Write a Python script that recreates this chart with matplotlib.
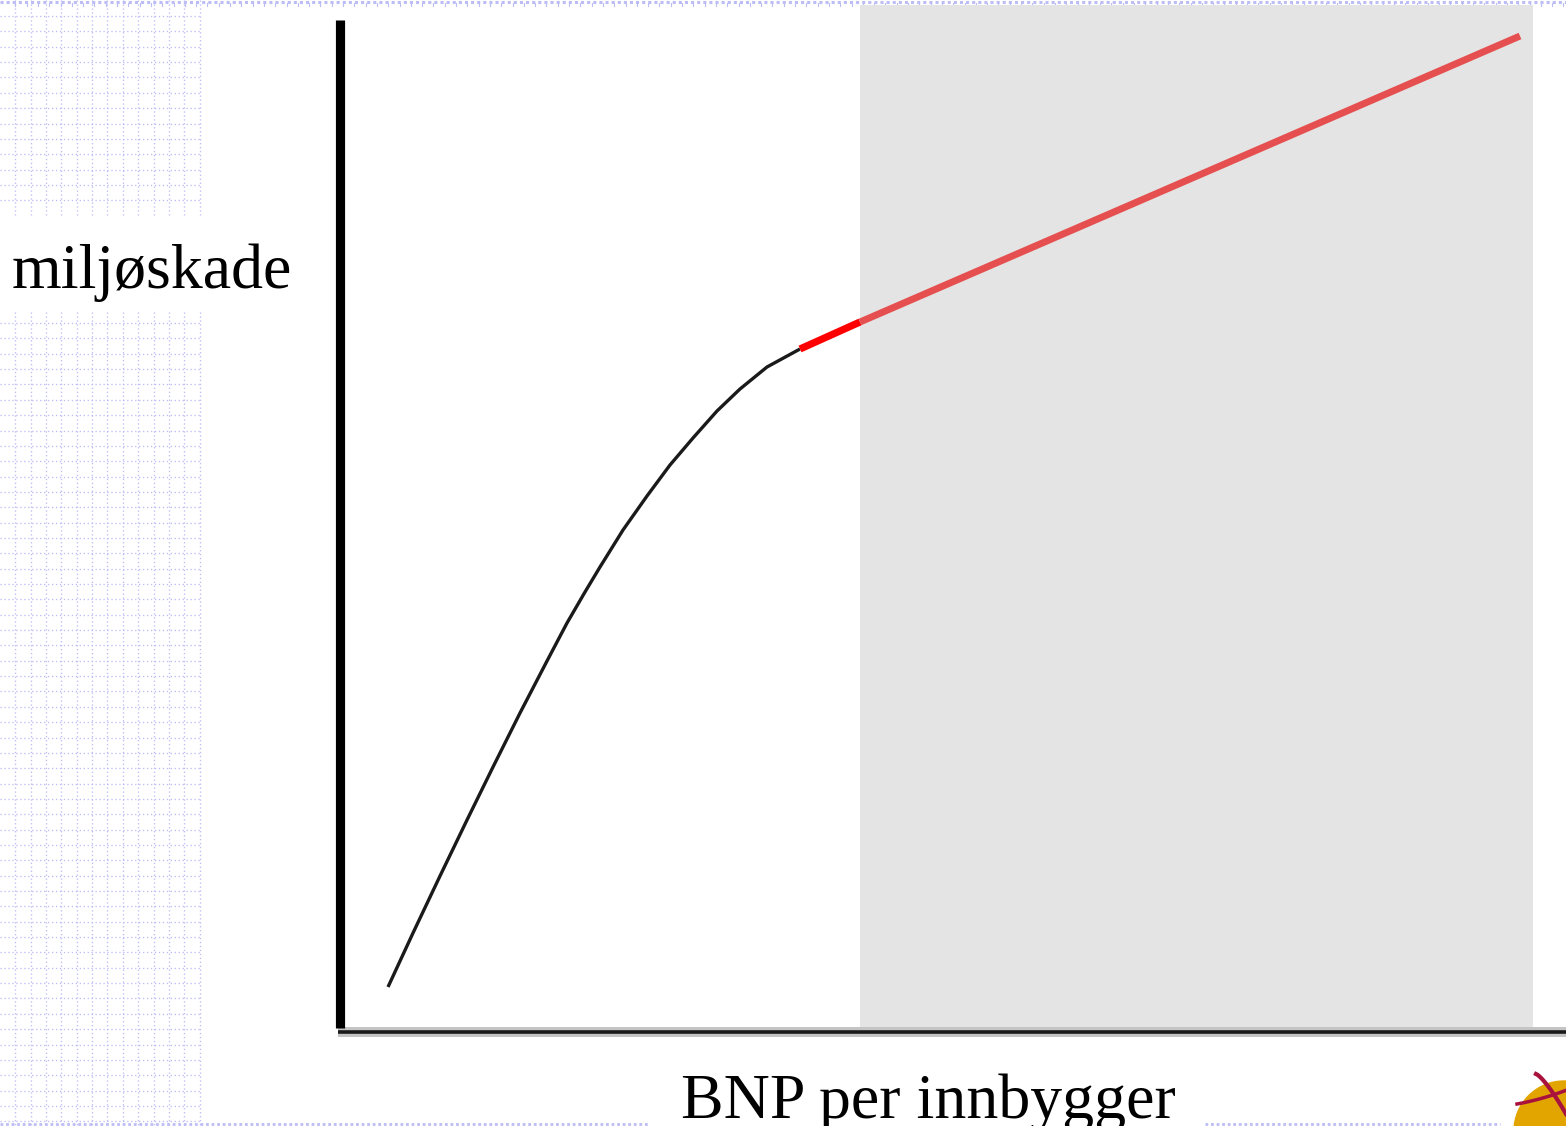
import matplotlib
matplotlib.use("Agg")
import matplotlib.pyplot as plt
import numpy as np
from matplotlib.patches import Circle

# ---- data (arbitrary units: BNP per innbygger vs miljøskade) ----
curve_bnp = [48, 73, 100, 127, 153, 180, 207, 227, 245, 260, 283, 307, 330,
             353, 377, 400, 427, 460]
curve_skade = [40, 94, 151, 207, 260, 314, 366, 404, 435, 460, 497, 531, 562,
               589, 616, 638, 660, 678]
turn_bnp = [460, 520]
turn_skade = [678, 705]
trend_bnp = [520, 1180]
trend_skade = [705, 991]
shade_from = 520
shade_to = 1193
x_label = "BNP per innbygger"
y_label = "miljøskade"

W, H = 1566, 1126
fig = plt.figure(figsize=(W / 100, H / 100), dpi=100)
fig.patch.set_facecolor("white")

# background (slide decoration) in pixel coordinates
bg = fig.add_axes([0, 0, 1, 1], zorder=0)
bg.set_xlim(0, W)
bg.set_ylim(H, 0)
bg.axis("off")

gc = "#bcbcf6"
dots = (0, (1, 2))
lw_px = 0.95
step = 15.35
xs = [step * k for k in range(1, 14)]
ys = [step * k + 0.7 for k in range(1, 74)]
for x in xs:
    bg.plot([x, x], [0, 215], color=gc, lw=lw_px, ls=dots)
    bg.plot([x, x], [312, H], color=gc, lw=lw_px, ls=dots)
for y in ys:
    if 215 < y < 312 or y > H:
        continue
    bg.plot([0, 200], [y, y], color=gc, lw=lw_px, ls=dots)
# top and bottom slide rows
bg.plot([0, W], [1.5, 1.5], color=gc, lw=2.2, ls=(0, (1, 1)))
for x in np.arange(15.3, W, 11.3):
    bg.plot([x, x], [3, 6], color=gc, lw=0.8)
bg.plot([0, 650], [1123.5, 1123.5], color=gc, lw=2, ls=(0, (1, 1)))
bg.plot([1205, 1500], [1123.5, 1123.5], color=gc, lw=2, ls=(0, (1, 1)))

# logo
bg.add_patch(Circle((1564, 1131), 50, color="#e2a500", zorder=3))
t = np.linspace(0, 1, 30)
bg.plot(1517 + 55 * t, 1104 - 16 * t + 6 * t * (1 - t), color="#a8123c", lw=2.5, zorder=4)
bg.plot(1536 + 30 * t, 1074 + 40 * t ** 1.3, color="#a8123c", lw=3, zorder=4)

# labels
bg.text(12, 288, y_label, family="Liberation Serif", fontsize=46,
        va="baseline", ha="left", color="black")
bg.text(928, 1118, x_label, family="Liberation Serif", fontsize=46,
        va="baseline", ha="center", color="black")

# main chart axes
left, right, top, bottom = 340, 1566, 5, 1027
ax = fig.add_axes([left / W, (H - bottom) / H, (right - left) / W, (bottom - top) / H],
                  zorder=1)
ax.patch.set_alpha(0)
ax.set_xlim(0, right - left)
ax.set_ylim(0, bottom - top)
for s in ax.spines.values():
    s.set_visible(False)
ax.set_xticks([])
ax.set_yticks([])

ax.axvspan(shade_from, shade_to, color="#e4e4e4", lw=0, zorder=1)

# axes lines
ax.plot([-2, right - left], [-5, -5], color="#c4c4c4", lw=7.2, clip_on=False,
        solid_capstyle="butt", zorder=2)
ax.plot([-2, right - left], [-4.5, -4.5], color="#1a1a1a", lw=2.6, clip_on=False,
        solid_capstyle="butt", zorder=3)
ax.plot([0, 0], [-1, bottom - 20], color="black", lw=6.6, clip_on=False,
        solid_capstyle="butt", zorder=3)

# curve
ax.plot(curve_bnp, curve_skade, color="#1a1a1a", lw=2.4, zorder=4,
        solid_capstyle="butt", solid_joinstyle="round")
ax.plot(turn_bnp, turn_skade, color="#ff0000", lw=5.2, zorder=5,
        solid_capstyle="butt")
ax.plot(trend_bnp, trend_skade, color="#e64f4f", lw=5.0, zorder=5,
        solid_capstyle="butt")

fig.savefig("out.png", dpi=100, facecolor="white")
